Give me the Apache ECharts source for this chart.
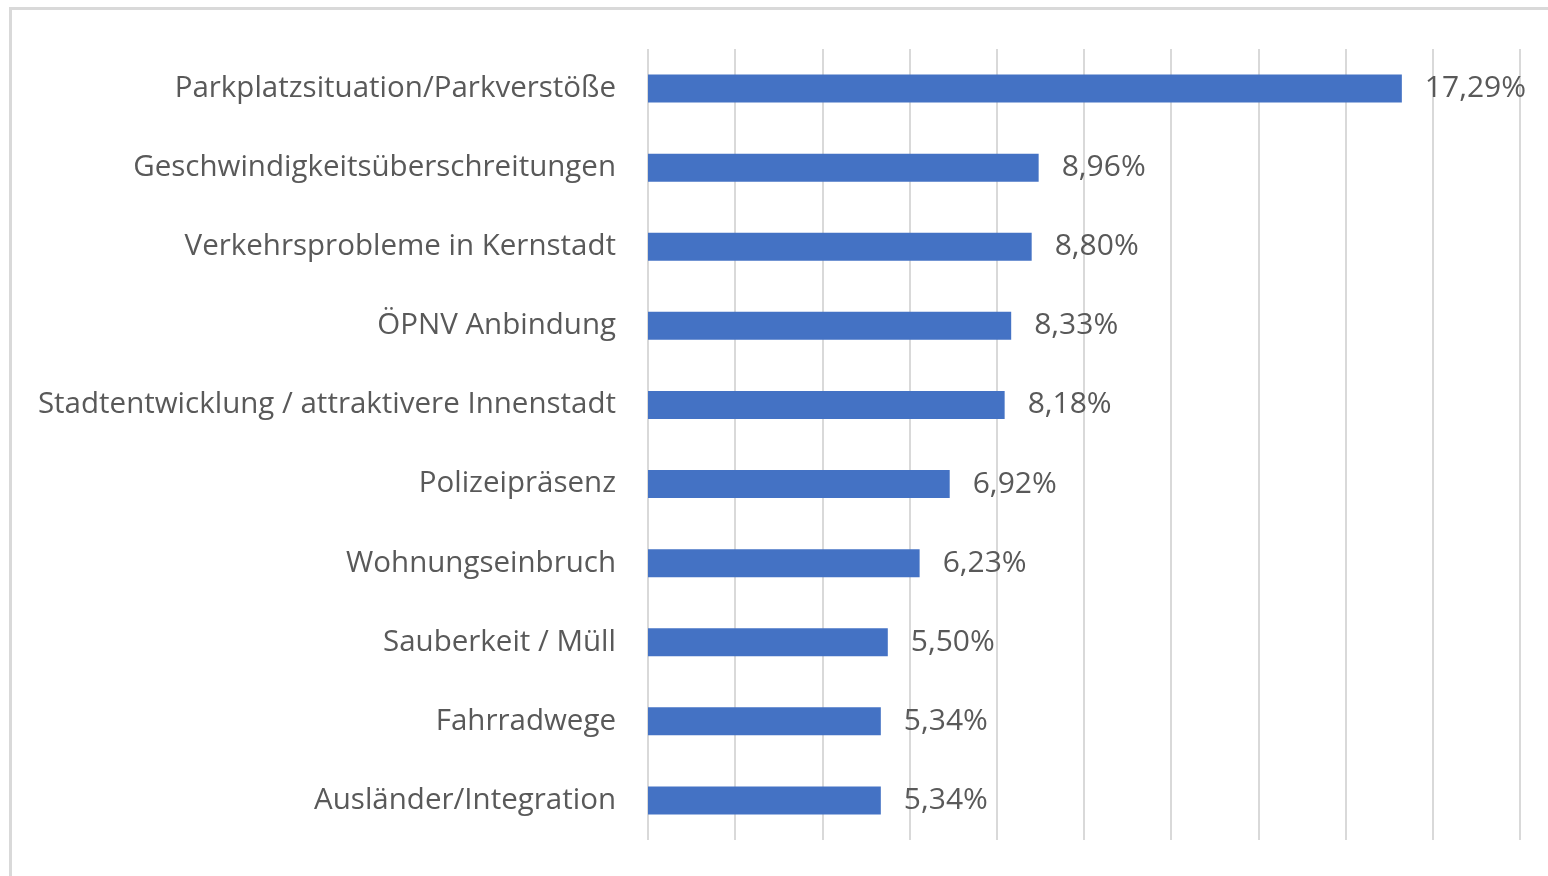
<!DOCTYPE html>
<html>
<head>
<meta charset="utf-8">
<script src="https://cdn.jsdelivr.net/npm/echarts@6/dist/echarts.min.js"></script>
<style>
  html, body { margin: 0; padding: 0; background: #fff; }
  .frame {
    position: absolute; left: 9px; top: 7px; width: 1560px; height: 900px;
    border: 3px solid #d9d9d9; box-sizing: border-box;
  }
  .echarts_1 { position: absolute; left: 0; top: 0; width: 1548px; height: 876px; }
</style>
</head>
<body>
<div class="frame"></div>
<div class="echarts_1"></div>
<script>
// Kategorien (von oben nach unten)
var categories = [
  'Parkplatzsituation/Parkverstöße',
  'Geschwindigkeitsüberschreitungen',
  'Verkehrsprobleme in Kernstadt',
  'ÖPNV Anbindung',
  'Stadtentwicklung / attraktivere Innenstadt',
  'Polizeipräsenz',
  'Wohnungseinbruch',
  'Sauberkeit / Müll',
  'Fahrradwege',
  'Ausländer/Integration'
];
// Anteile in Prozent
var values = [17.29, 8.96, 8.80, 8.33, 8.18, 6.92, 6.23, 5.50, 5.34, 5.34];

var chart = echarts.init(document.querySelector('.echarts_1'));

var option = {
  animation: false,
  textStyle: { fontFamily: 'Open Sans' },
  grid: { left: 648, right: 28, top: 49, bottom: 36, containLabel: false },
  xAxis: {
    type: 'value',
    min: 0,
    max: 20,
    interval: 2,
    axisLabel: { show: false },
    axisLine: { show: false },
    axisTick: { show: false },
    splitLine: { lineStyle: { color: '#d9d9d9', width: 2 } }
  },
  yAxis: {
    type: 'category',
    inverse: true,
    data: categories,
    axisLine: { show: false },
    axisTick: { show: false },
    axisLabel: { color: '#595959', fontSize: 29.5, margin: 32, fontFamily: 'Open Sans', padding: [2, 0, 0, 0] }
  },
  series: [{
    type: 'bar',
    data: values,
    barWidth: 28,
    itemStyle: { color: '#4472c4' },
    label: {
      show: true,
      position: 'right',
      distance: 23,
      color: '#595959',
      fontSize: 30,
      fontFamily: 'Open Sans',
      padding: [3, 0, 0, 0],
      formatter: function (p) { return p.value.toFixed(2).replace('.', ',') + '%'; }
    }
  }]
};

chart.setOption(option);
</script>
</body>
</html>
